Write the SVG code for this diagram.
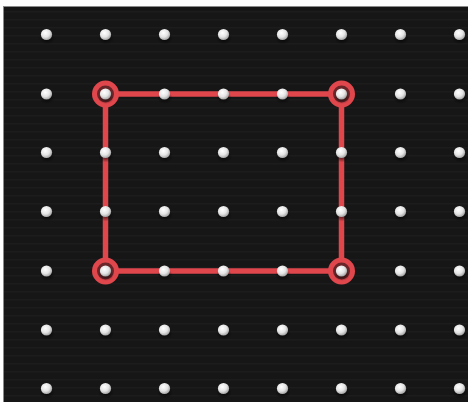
<svg xmlns="http://www.w3.org/2000/svg" width="468" height="402" viewBox="0 0 468 402">
<defs>
<radialGradient id="peg" cx="0.4" cy="0.35" r="0.7">
<stop offset="0" stop-color="#ffffff"/>
<stop offset="0.55" stop-color="#e4e4e4"/>
<stop offset="1" stop-color="#9a9a9a"/>
</radialGradient>
<radialGradient id="shadow" cx="0.5" cy="0.5" r="0.5">
<stop offset="0" stop-color="#000" stop-opacity="0.7"/>
<stop offset="1" stop-color="#000" stop-opacity="0"/>
</radialGradient>
<pattern id="wood" width="468" height="8" patternUnits="userSpaceOnUse">
<rect width="468" height="8" fill="#161616"/>
<rect y="3" width="468" height="1.5" fill="#1c1c1c"/>
</pattern>
<g id="p">
<ellipse cx="0.5" cy="4" rx="8" ry="6" fill="url(#shadow)"/>
<circle r="5.6" fill="url(#peg)"/>
</g>
</defs>
<style>
.band{fill:none;stroke:#e0474d;stroke-width:5.5;stroke-linejoin:round}
.ring{fill:#6a2529;stroke:#e0474d;stroke-width:5}
</style>
<rect width="468" height="402" fill="#ffffff"/>
<rect x="3.5" y="6.5" width="465" height="396" fill="url(#wood)" stroke="#8a8a8a" stroke-width="1"/>
<g id="connectors">
<path class="band" d="M105.5 94 H341.5 V271 H105.5 Z"/>
</g>
<g id="rings">
<circle class="ring" cx="105.5" cy="94" r="11"/>
<circle class="ring" cx="341.5" cy="94" r="11"/>
<circle class="ring" cx="105.5" cy="271" r="11"/>
<circle class="ring" cx="341.5" cy="271" r="11"/>
</g>
<g id="pegs">
<g id="row1"><use href="#p" x="46.5" y="34.5"/><use href="#p" x="105.5" y="34.5"/><use href="#p" x="164.5" y="34.5"/><use href="#p" x="223.5" y="34.5"/><use href="#p" x="282.5" y="34.5"/><use href="#p" x="341.5" y="34.5"/><use href="#p" x="400.5" y="34.5"/><use href="#p" x="459.5" y="34.5"/></g>
<g id="row2"><use href="#p" x="46.5" y="94"/><use href="#p" x="105.5" y="94"/><use href="#p" x="164.5" y="94"/><use href="#p" x="223.5" y="94"/><use href="#p" x="282.5" y="94"/><use href="#p" x="341.5" y="94"/><use href="#p" x="400.5" y="94"/><use href="#p" x="459.5" y="94"/></g>
<g id="row3"><use href="#p" x="46.5" y="152.5"/><use href="#p" x="105.5" y="152.5"/><use href="#p" x="164.5" y="152.5"/><use href="#p" x="223.5" y="152.5"/><use href="#p" x="282.5" y="152.5"/><use href="#p" x="341.5" y="152.5"/><use href="#p" x="400.5" y="152.5"/><use href="#p" x="459.5" y="152.5"/></g>
<g id="row4"><use href="#p" x="46.5" y="211.5"/><use href="#p" x="105.5" y="211.5"/><use href="#p" x="164.5" y="211.5"/><use href="#p" x="223.5" y="211.5"/><use href="#p" x="282.5" y="211.5"/><use href="#p" x="341.5" y="211.5"/><use href="#p" x="400.5" y="211.5"/><use href="#p" x="459.5" y="211.5"/></g>
<g id="row5"><use href="#p" x="46.5" y="271"/><use href="#p" x="105.5" y="271"/><use href="#p" x="164.5" y="271"/><use href="#p" x="223.5" y="271"/><use href="#p" x="282.5" y="271"/><use href="#p" x="341.5" y="271"/><use href="#p" x="400.5" y="271"/><use href="#p" x="459.5" y="271"/></g>
<g id="row6"><use href="#p" x="46.5" y="330"/><use href="#p" x="105.5" y="330"/><use href="#p" x="164.5" y="330"/><use href="#p" x="223.5" y="330"/><use href="#p" x="282.5" y="330"/><use href="#p" x="341.5" y="330"/><use href="#p" x="400.5" y="330"/><use href="#p" x="459.5" y="330"/></g>
<g id="row7"><use href="#p" x="46.5" y="388.5"/><use href="#p" x="105.5" y="388.5"/><use href="#p" x="164.5" y="388.5"/><use href="#p" x="223.5" y="388.5"/><use href="#p" x="282.5" y="388.5"/><use href="#p" x="341.5" y="388.5"/><use href="#p" x="400.5" y="388.5"/><use href="#p" x="459.5" y="388.5"/></g>
</g>
</svg>
